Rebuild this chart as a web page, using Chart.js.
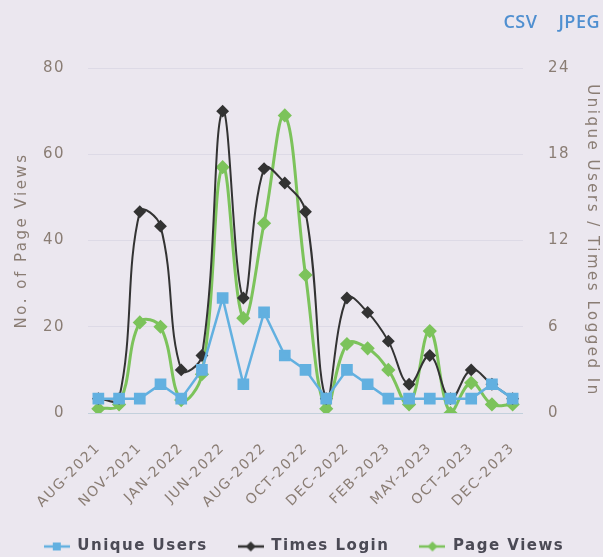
<!DOCTYPE html>
<html>
<head>
<meta charset="utf-8">
<script src="https://cdn.jsdelivr.net/npm/chart.js@4"></script>
<style>
  html, body { margin: 0; padding: 0; background: #ebe7ef; }
  #wrap { position: relative; width: 603px; height: 557px; }
  #exportLinks {
    position: absolute; top: 12px; right: 3px;
    font: 600 18px/18px "Open Sans"; color: #4f8fd0; letter-spacing: 0.5px;
  }
  #exportLinks span + span { margin-left: 21px; }
</style>
</head>
<body>
<div id="wrap">
  <canvas id="usageChart" width="603" height="557"></canvas>
  <div id="exportLinks"><span>CSV</span><span>JPEG</span></div>
</div>
<script>
    var months = [
        "AUG-2021", "OCT-2021", "NOV-2021", "DEC-2021", "JAN-2022", "MAR-2022",
        "JUN-2022", "JUL-2022", "AUG-2022", "SEP-2022", "OCT-2022", "NOV-2022",
        "DEC-2022", "JAN-2023", "FEB-2023", "MAR-2023", "MAY-2023", "JUL-2023",
        "OCT-2023", "NOV-2023", "DEC-2023"
    ];
    var uniqueUsers = [1, 1, 1, 2, 1, 3, 8, 2, 7, 4, 3, 1, 3, 2, 1, 1, 1, 1, 1, 2, 1];
    var timesLogin  = [1, 1, 14, 13, 3, 4, 21, 8, 17, 16, 14, 1, 8, 7, 5, 2, 4, 1, 3, 2, 1];
    var pageViews   = [1, 2, 21, 20, 3, 9, 57, 22, 44, 69, 32, 1, 16, 15, 10, 2, 19, 0, 7, 2, 2];

    var blue = "#62b0e0", black = "#333333", green = "#7cc35b";
    var tickColor = "#8a7d74";
    var fontFamily = "'DejaVu Sans'";

    // small line + marker pictures for the legend
    function legendIcon(color, shape) {
        var c = document.createElement("canvas");
        c.width = 26; c.height = 14;
        var g = c.getContext("2d");
        g.strokeStyle = color; g.fillStyle = color; g.lineWidth = 2.5;
        g.beginPath(); g.moveTo(0, 7); g.lineTo(26, 7); g.stroke();
        g.beginPath();
        if (shape === "square") {
            g.rect(9, 3, 8, 8);
        } else {
            g.moveTo(13, 2); g.lineTo(18, 7); g.lineTo(13, 12); g.lineTo(8, 7); g.closePath();
        }
        g.fill();
        return c;
    }
    var legendIcons = [legendIcon(blue, "square"), legendIcon(black, "diamond"), legendIcon(green, "diamond")];

    // the printed chart has wide letter spacing, titles even more
    var spacing = {
        id: "spacing",
        beforeLayout: function(chart) { chart.ctx.letterSpacing = "1.5px"; },
        afterLayout: function(chart) { chart.scales.x.bottom = chart.height; },
        beforeDraw: function(chart) {
            chart.ctx.letterSpacing = "1.5px";
            ["yLeft", "yRight"].forEach(function(id) {
                var s = chart.scales[id];
                if (s._wideTitle) return;
                var orig = s.drawTitle;
                s.drawTitle = function() {
                    this.ctx.letterSpacing = "2.5px";
                    orig.apply(this, arguments);
                    this.ctx.letterSpacing = "1.5px";
                };
                s._wideTitle = true;
            });
        }
    };

    window.onload = function() {
        var usageChart = new Chart("usageChart", {
            type: "line",
            plugins: [spacing],
            data: {
                labels: months,
                datasets: [{
                    label: "Unique Users",
                    data: uniqueUsers,
                    yAxisID: "yRight",
                    borderColor: blue,
                    backgroundColor: blue,
                    borderWidth: 2.5,
                    pointStyle: "rect",
                    pointRadius: 6.5,
                    tension: 0
                }, {
                    label: "Times Login",
                    data: timesLogin,
                    yAxisID: "yRight",
                    borderColor: black,
                    backgroundColor: black,
                    borderWidth: 2,
                    pointStyle: "rectRot",
                    pointRadius: 5,
                    tension: 0.4
                }, {
                    label: "Page Views",
                    data: pageViews,
                    yAxisID: "yLeft",
                    borderColor: green,
                    backgroundColor: green,
                    borderWidth: 3,
                    pointStyle: "rectRot",
                    pointRadius: 5,
                    tension: 0.4
                }]
            },
            options: {
                responsive: false,
                animation: false,
                layout: { padding: { left: 5, right: 0, top: 68, bottom: -7 } },
                plugins: {
                    tooltip: { enabled: false },
                    legend: {
                        position: "bottom",
                        labels: {
                            usePointStyle: true,
                            pointStyleWidth: 26,
                            padding: 30,
                            font: { family: fontFamily, size: 15, weight: "bold" },
                            generateLabels: function(chart) {
                                return chart.data.datasets.map(function(ds, i) {
                                    return {
                                        text: ds.label,
                                        pointStyle: legendIcons[i],
                                        fontColor: "#4b4a55",
                                        fillStyle: "transparent",
                                        strokeStyle: "transparent",
                                        lineWidth: 0,
                                        hidden: false,
                                        datasetIndex: i
                                    };
                                });
                            }
                        }
                    }
                },
                scales: {
                    x: {
                        offset: true,
                        grid: { display: false },
                        border: { display: false },
                        afterFit: function(scale) { scale.height = 96; },
                        ticks: {
                            autoSkip: false,
                            minRotation: 45,
                            maxRotation: 45,
                            padding: 19,
                            color: tickColor,
                            font: { family: fontFamily, size: 14 },
                            callback: function(value, index) {
                                return index % 2 === 0 ? months[index] : null;
                            }
                        }
                    },
                    yLeft: {
                        position: "left",
                        min: 0,
                        max: 80,
                        afterFit: function(scale) { scale.width = 83; },
                        grid: {
                            drawTicks: false,
                            color: function(ctx) {
                                return ctx.tick && ctx.tick.value === 0 ? "#c3d0dc" : "rgba(205,202,220,0.45)";
                            }
                        },
                        border: { display: false },
                        ticks: {
                            stepSize: 20,
                            padding: 23,
                            color: tickColor,
                            font: { family: fontFamily, size: 15 }
                        },
                        title: {
                            display: true,
                            text: "No. of Page Views",
                            color: tickColor,
                            padding: { top: 8 },
                            font: { family: fontFamily, size: 15 }
                        }
                    },
                    yRight: {
                        position: "right",
                        min: 0,
                        max: 24,
                        afterFit: function(scale) { scale.width = 80; },
                        grid: { display: false, drawTicks: false },
                        border: { display: false },
                        ticks: {
                            stepSize: 6,
                            padding: 25,
                            color: tickColor,
                            font: { family: fontFamily, size: 15 }
                        },
                        title: {
                            display: true,
                            text: "Unique Users / Times Logged In",
                            color: tickColor,
                            padding: { top: 2 },
                            font: { family: fontFamily, size: 15 }
                        }
                    }
                }
            }
        });
    };
</script>
</body>
</html>
